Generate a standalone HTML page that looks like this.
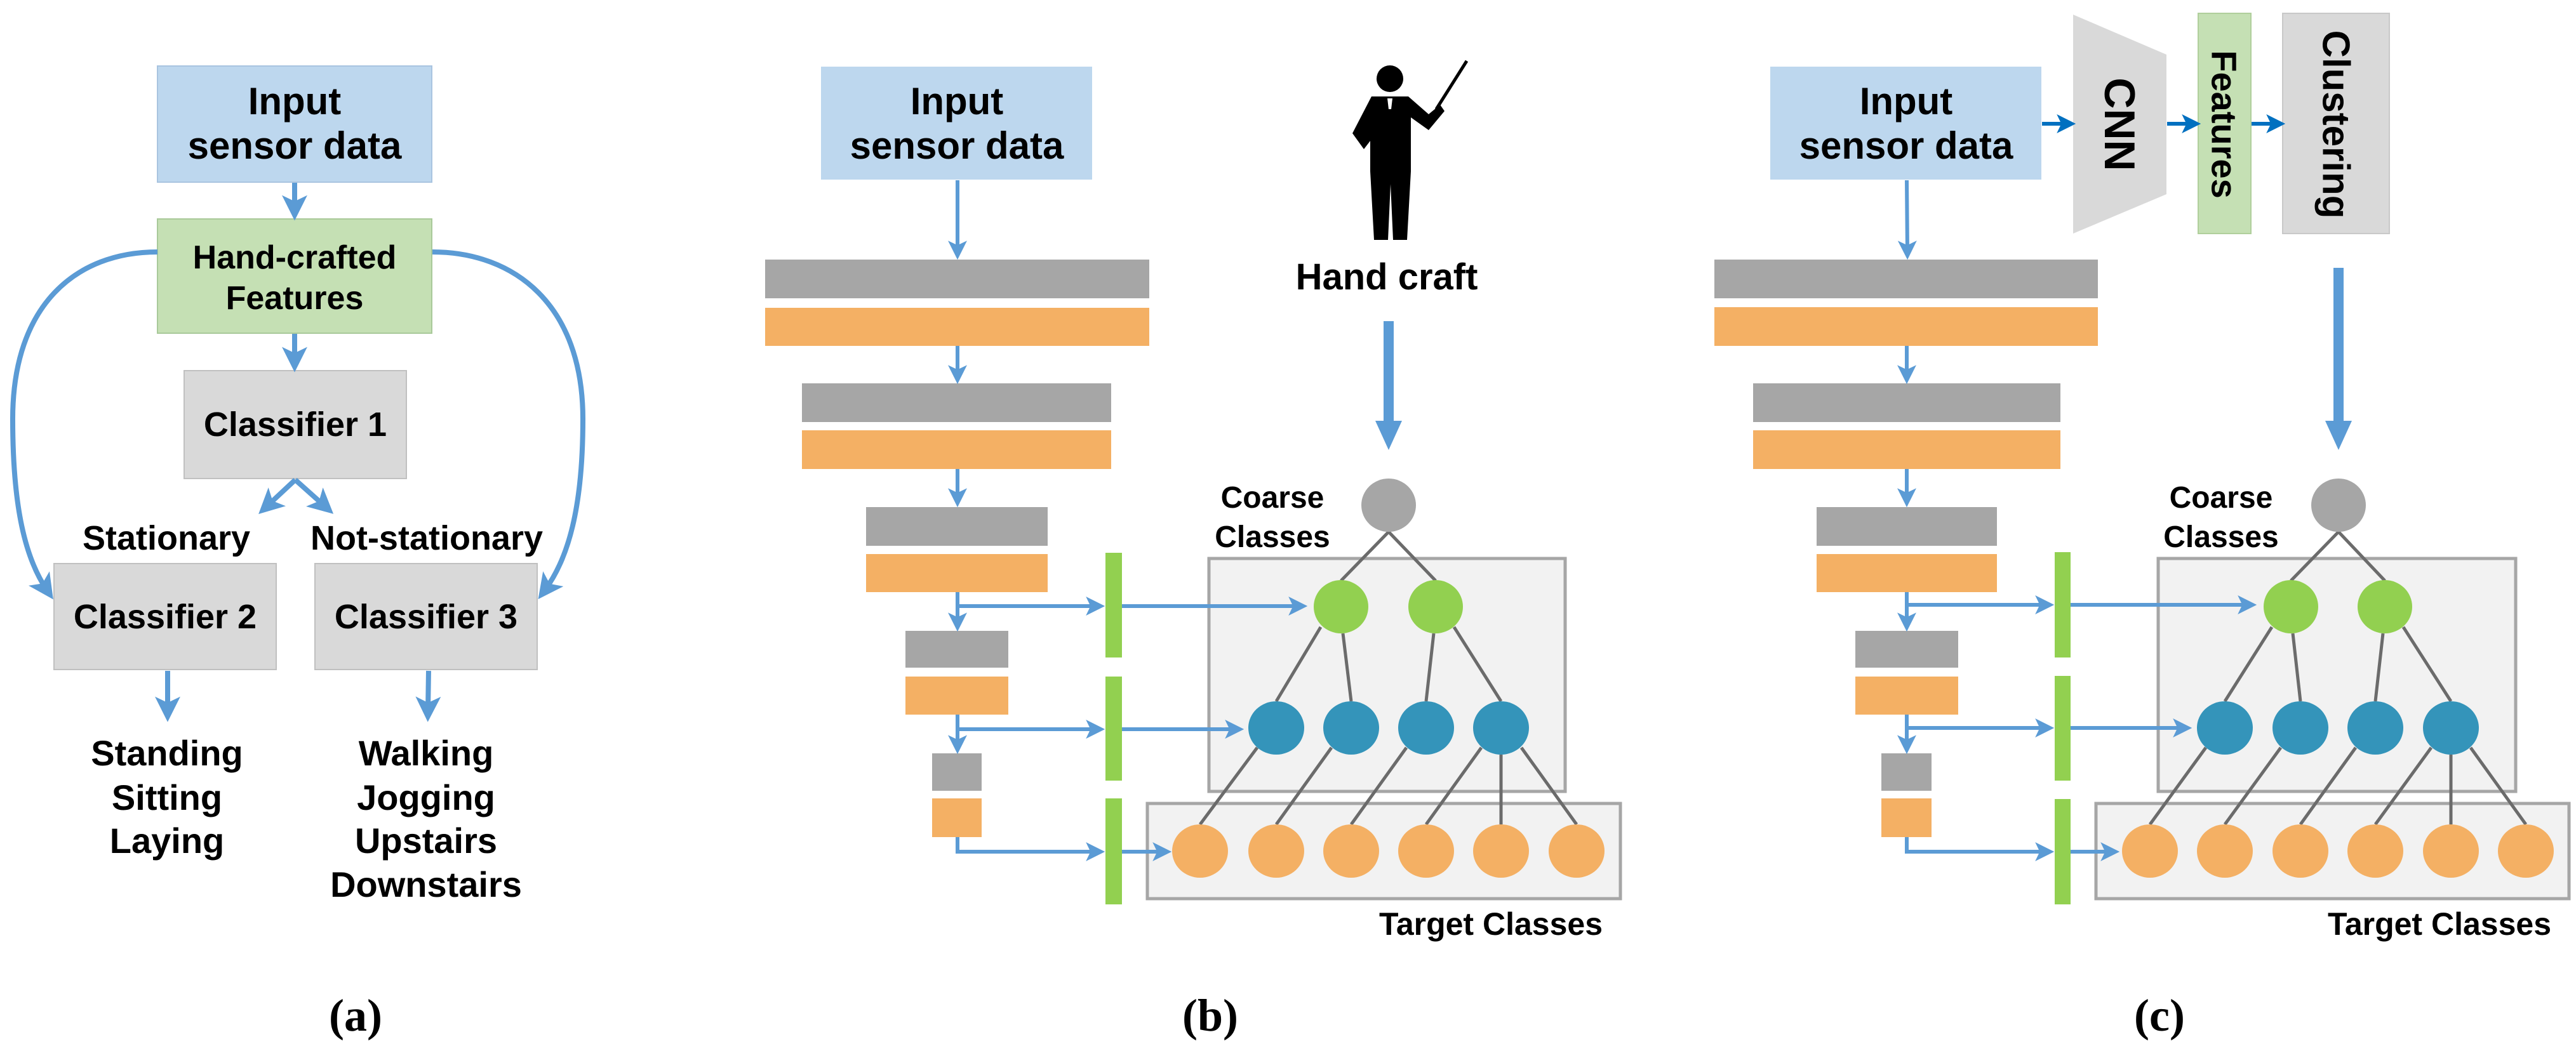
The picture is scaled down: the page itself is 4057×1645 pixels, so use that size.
<!DOCTYPE html>
<html><head><meta charset="utf-8"><style>
html,body{margin:0;padding:0;background:#fff;}
svg{display:block;}
text{font-family:"Liberation Sans",sans-serif;font-weight:bold;fill:#000;}
.cap{font-family:"Liberation Serif",serif;font-weight:bold;font-size:72px;}
</style></head><body>
<svg width="4057" height="1645" viewBox="0 0 4057 1645" xmlns="http://www.w3.org/2000/svg">
<defs>
<marker id="ah" markerWidth="5" markerHeight="5" refX="2.8" refY="2.5" orient="auto" markerUnits="strokeWidth"><path d="M0,0 L5,2.5 L0,5 L1.2,2.5 z" fill="#5b9bd5"/></marker>
<marker id="ah2" markerWidth="5" markerHeight="5" refX="2.8" refY="2.5" orient="auto" markerUnits="strokeWidth"><path d="M0,0 L5,2.5 L0,5 L1.2,2.5 z" fill="#0070c0"/></marker>
</defs>

<!-- ===== Panel (a) ===== -->
<g>
<rect x="248" y="104" width="432" height="183" fill="#bdd7ee" stroke="#a9c4e0" stroke-width="2"/>
<text x="464" y="180" font-size="60" text-anchor="middle">Input</text>
<text x="464" y="250" font-size="60" text-anchor="middle">sensor data</text>
<rect x="248" y="345" width="432" height="180" fill="#c5e0b4" stroke="#a9c99a" stroke-width="2"/>
<text x="464" y="423" font-size="52" text-anchor="middle">Hand-crafted</text>
<text x="464" y="487" font-size="52" text-anchor="middle">Features</text>
<rect x="290" y="584" width="350" height="170" fill="#d9d9d9" stroke="#c0c0c0" stroke-width="2"/>
<text x="465" y="687" font-size="54" text-anchor="middle">Classifier 1</text>
<rect x="85" y="888" width="350" height="167" fill="#d9d9d9" stroke="#c0c0c0" stroke-width="2"/>
<text x="260" y="990" font-size="54" text-anchor="middle">Classifier 2</text>
<rect x="496" y="888" width="350" height="167" fill="#d9d9d9" stroke="#c0c0c0" stroke-width="2"/>
<text x="671" y="990" font-size="54" text-anchor="middle">Classifier 3</text>
<text x="262" y="866" font-size="54" text-anchor="middle">Stationary</text>
<text x="672" y="866" font-size="54" text-anchor="middle">Not-stationary</text>
<g stroke="#5b9bd5" stroke-width="8" fill="none">
<line x1="464" y1="288" x2="464" y2="330" marker-end="url(#ah)"/>
<line x1="464" y1="526" x2="464" y2="569" marker-end="url(#ah)"/>
<line x1="465" y1="756" x2="420" y2="798" marker-end="url(#ah)"/>
<line x1="465" y1="756" x2="512" y2="798" marker-end="url(#ah)"/>
<path d="M248,397 C120,397 20,480 20,660 C20,800 40,880 74,930" marker-end="url(#ah)"/>
<path d="M681,397 C810,397 918,480 918,660 C918,800 895,880 858,930" marker-end="url(#ah)"/>
<line x1="264" y1="1057" x2="264" y2="1120" marker-end="url(#ah)"/>
<line x1="675" y1="1057" x2="674" y2="1120" marker-end="url(#ah)"/>
</g>
<g font-size="56" text-anchor="middle">
<text x="263" y="1206">Standing</text>
<text x="263" y="1276">Sitting</text>
<text x="263" y="1344">Laying</text>
<text x="671" y="1206">Walking</text>
<text x="671" y="1276">Jogging</text>
<text x="671" y="1344">Upstairs</text>
<text x="671" y="1413">Downstairs</text>
</g>
<text class="cap" x="560" y="1624" text-anchor="middle">(a)</text>
</g>

<!-- ===== Panel (b) ===== -->
<g>
<rect x="1293" y="105" width="427" height="178" fill="#bdd7ee"/>
<text x="1507" y="180" font-size="60" text-anchor="middle">Input</text>
<text x="1507" y="250" font-size="60" text-anchor="middle">sensor data</text>
<rect x="1205" y="409" width="605" height="61" fill="#a6a6a6"/>
<rect x="1205" y="485" width="605" height="60" fill="#f4b064"/>
<rect x="1263" y="604" width="487" height="61" fill="#a6a6a6"/>
<rect x="1263" y="678" width="487" height="61" fill="#f4b064"/>
<rect x="1364" y="799" width="286" height="61" fill="#a6a6a6"/>
<rect x="1364" y="873" width="286" height="60" fill="#f4b064"/>
<rect x="1426" y="994" width="162" height="58" fill="#a6a6a6"/>
<rect x="1426" y="1066" width="162" height="60" fill="#f4b064"/>
<rect x="1468" y="1187" width="78" height="59" fill="#a6a6a6"/>
<rect x="1468" y="1258" width="78" height="61" fill="#f4b064"/>
<g stroke="#5b9bd5" stroke-width="6" fill="none">
<line x1="1508" y1="284" x2="1508" y2="396" marker-end="url(#ah)"/>
<line x1="1508" y1="545" x2="1508" y2="592" marker-end="url(#ah)"/>
<line x1="1508" y1="739" x2="1508" y2="786" marker-end="url(#ah)"/>
<line x1="1508" y1="933" x2="1508" y2="982" marker-end="url(#ah)"/>
<line x1="1508" y1="1126" x2="1508" y2="1175" marker-end="url(#ah)"/>
<line x1="1508" y1="955" x2="1727" y2="955" marker-end="url(#ah)"/>
<line x1="1508" y1="1149" x2="1727" y2="1149" marker-end="url(#ah)"/>
<polyline points="1508,1319 1508,1342 1727,1342" marker-end="url(#ah)"/>
</g>
<rect x="1741" y="871" width="26" height="165" fill="#92d050"/>
<rect x="1741" y="1066" width="26" height="164" fill="#92d050"/>
<rect x="1741" y="1258" width="26" height="167" fill="#92d050"/>
<!-- teacher -->
<g fill="#000">
<circle cx="2189" cy="124" r="21"/>
<path d="M2160,152 L2218,152 L2250,180 L2268,165 L2275,175 L2250,205 L2222,185 L2222,270 L2216,378 L2194,378 L2190,290 L2186,378 L2164,378 L2158,270 L2158,222 L2148,235 L2130,210 Z"/>
<line x1="2262" y1="172" x2="2310" y2="96" stroke="#000" stroke-width="5"/>
<path d="M2185,155 L2193,155 L2191,172 L2187,172Z" fill="#fff"/>
</g>
<text x="2184" y="456" font-size="58" text-anchor="middle">Hand craft</text>
<line x1="2187" y1="506" x2="2187" y2="670" stroke="#5b9bd5" stroke-width="16"/>
<path d="M2166,663 L2208,663 L2187,709 Z" fill="#5b9bd5"/>
<rect x="1904" y="880" width="561" height="367" fill="#f2f2f2" stroke="#a6a6a6" stroke-width="5"/>
<rect x="1807" y="1266" width="745" height="150" fill="#f2f2f2" stroke="#a6a6a6" stroke-width="5"/>
<g stroke="#5b9bd5" stroke-width="6" fill="none">
<line x1="1767" y1="955" x2="2046" y2="955" marker-end="url(#ah)"/>
<line x1="1767" y1="1149" x2="1946" y2="1149" marker-end="url(#ah)"/>
<line x1="1767" y1="1342" x2="1832" y2="1342" marker-end="url(#ah)"/>
</g>
<text x="2004" y="800" font-size="48" text-anchor="middle">Coarse</text>
<text x="2004" y="862" font-size="48" text-anchor="middle">Classes</text>
<g stroke="#6b6b6b" stroke-width="5">
<line x1="2187" y1="838" x2="2112" y2="915"/><line x1="2187" y1="838" x2="2261" y2="915"/>
<line x1="2080" y1="988" x2="2010" y2="1105"/><line x1="2115" y1="998" x2="2128" y2="1105"/>
<line x1="2258" y1="998" x2="2246" y2="1105"/><line x1="2290" y1="988" x2="2364" y2="1105"/>
<line x1="1980" y1="1178" x2="1890" y2="1299"/><line x1="2097" y1="1178" x2="2010" y2="1299"/>
<line x1="2215" y1="1178" x2="2128" y2="1299"/><line x1="2333" y1="1178" x2="2246" y2="1299"/>
<line x1="2364" y1="1189" x2="2364" y2="1299"/><line x1="2396" y1="1178" x2="2483" y2="1299"/>
</g>
<ellipse cx="2187" cy="796" rx="43" ry="42" fill="#a6a6a6"/>
<ellipse cx="2112" cy="956" rx="43" ry="42" fill="#92d050"/>
<ellipse cx="2261" cy="956" rx="43" ry="42" fill="#92d050"/>
<g fill="#3494ba"><ellipse cx="2010" cy="1147" rx="44" ry="42"/><ellipse cx="2128" cy="1147" rx="44" ry="42"/><ellipse cx="2246" cy="1147" rx="44" ry="42"/><ellipse cx="2364" cy="1147" rx="44" ry="42"/></g>
<g fill="#f4b064"><ellipse cx="1890" cy="1341" rx="44" ry="42"/><ellipse cx="2010" cy="1341" rx="44" ry="42"/><ellipse cx="2128" cy="1341" rx="44" ry="42"/><ellipse cx="2246" cy="1341" rx="44" ry="42"/><ellipse cx="2364" cy="1341" rx="44" ry="42"/><ellipse cx="2483" cy="1341" rx="44" ry="42"/></g>
<text x="2348" y="1473" font-size="50" text-anchor="middle">Target Classes</text>
<text class="cap" x="1906" y="1624" text-anchor="middle">(b)</text>
</g>

<!-- ===== Panel (c) ===== -->
<g>
<rect x="2788" y="105" width="427" height="178" fill="#bdd7ee"/>
<text x="3002" y="180" font-size="60" text-anchor="middle">Input</text>
<text x="3002" y="250" font-size="60" text-anchor="middle">sensor data</text>
<polygon points="3265,23 3412,86 3412,306 3265,368" fill="#d9d9d9"/>
<text transform="translate(3338,196) rotate(90)" font-size="68" text-anchor="middle" dominant-baseline="central">CNN</text>
<rect x="3462" y="21" width="83" height="347" fill="#c5e0b4" stroke="#b0cf9c" stroke-width="2"/>
<text transform="translate(3503,196) rotate(90)" font-size="56" text-anchor="middle" dominant-baseline="central">Features</text>
<rect x="3595" y="21" width="168" height="347" fill="#d9d9d9" stroke="#c8c8c8" stroke-width="2"/>
<text transform="translate(3679,196) rotate(90)" font-size="60" text-anchor="middle" dominant-baseline="central">Clustering</text>
<g stroke="#0070c0" stroke-width="6" fill="none">
<line x1="3216" y1="195" x2="3256" y2="195" marker-end="url(#ah2)"/>
<line x1="3413" y1="195" x2="3453" y2="195" marker-end="url(#ah2)"/>
<line x1="3546" y1="195" x2="3586" y2="195" marker-end="url(#ah2)"/>
</g>
<rect x="2700" y="409" width="604" height="61" fill="#a6a6a6"/>
<rect x="2700" y="484" width="604" height="61" fill="#f4b064"/>
<rect x="2761" y="604" width="484" height="61" fill="#a6a6a6"/>
<rect x="2761" y="678" width="484" height="61" fill="#f4b064"/>
<rect x="2861" y="799" width="284" height="61" fill="#a6a6a6"/>
<rect x="2861" y="873" width="284" height="60" fill="#f4b064"/>
<rect x="2922" y="994" width="162" height="58" fill="#a6a6a6"/>
<rect x="2922" y="1066" width="162" height="60" fill="#f4b064"/>
<rect x="2963" y="1187" width="79" height="59" fill="#a6a6a6"/>
<rect x="2963" y="1258" width="79" height="61" fill="#f4b064"/>
<g stroke="#5b9bd5" stroke-width="6" fill="none">
<line x1="3003" y1="284" x2="3004" y2="396" marker-end="url(#ah)"/>
<line x1="3003" y1="545" x2="3003" y2="592" marker-end="url(#ah)"/>
<line x1="3003" y1="739" x2="3003" y2="786" marker-end="url(#ah)"/>
<line x1="3003" y1="933" x2="3003" y2="982" marker-end="url(#ah)"/>
<line x1="3003" y1="1126" x2="3003" y2="1175" marker-end="url(#ah)"/>
<line x1="3003" y1="953" x2="3222" y2="953" marker-end="url(#ah)"/>
<line x1="3003" y1="1147" x2="3222" y2="1147" marker-end="url(#ah)"/>
<polyline points="3003,1319 3003,1342 3222,1342" marker-end="url(#ah)"/>
</g>
<rect x="3236" y="870" width="25" height="166" fill="#92d050"/>
<rect x="3236" y="1065" width="25" height="165" fill="#92d050"/>
<rect x="3236" y="1259" width="25" height="166" fill="#92d050"/>
<line x1="3683" y1="422" x2="3683" y2="670" stroke="#5b9bd5" stroke-width="16"/>
<path d="M3662,663 L3704,663 L3683,709 Z" fill="#5b9bd5"/>
<rect x="3399" y="880" width="563" height="367" fill="#f2f2f2" stroke="#a6a6a6" stroke-width="5"/>
<rect x="3301" y="1266" width="745" height="150" fill="#f2f2f2" stroke="#a6a6a6" stroke-width="5"/>
<g stroke="#5b9bd5" stroke-width="6" fill="none">
<line x1="3261" y1="953" x2="3541" y2="953" marker-end="url(#ah)"/>
<line x1="3261" y1="1147" x2="3439" y2="1147" marker-end="url(#ah)"/>
<line x1="3261" y1="1342" x2="3325" y2="1342" marker-end="url(#ah)"/>
</g>
<text x="3498" y="800" font-size="48" text-anchor="middle">Coarse</text>
<text x="3498" y="862" font-size="48" text-anchor="middle">Classes</text>
<g stroke="#6b6b6b" stroke-width="5">
<line x1="3683" y1="838" x2="3608" y2="915"/><line x1="3683" y1="838" x2="3756" y2="915"/>
<line x1="3578" y1="988" x2="3504" y2="1105"/><line x1="3611" y1="998" x2="3623" y2="1105"/>
<line x1="3753" y1="998" x2="3741" y2="1105"/><line x1="3785" y1="988" x2="3860" y2="1105"/>
<line x1="3474" y1="1178" x2="3386" y2="1299"/><line x1="3592" y1="1178" x2="3504" y2="1299"/>
<line x1="3710" y1="1178" x2="3623" y2="1299"/><line x1="3829" y1="1178" x2="3741" y2="1299"/>
<line x1="3860" y1="1189" x2="3860" y2="1299"/><line x1="3891" y1="1178" x2="3978" y2="1299"/>
</g>
<ellipse cx="3683" cy="796" rx="43" ry="42" fill="#a6a6a6"/>
<ellipse cx="3608" cy="956" rx="43" ry="42" fill="#92d050"/>
<ellipse cx="3756" cy="956" rx="43" ry="42" fill="#92d050"/>
<g fill="#3494ba"><ellipse cx="3504" cy="1147" rx="44" ry="42"/><ellipse cx="3623" cy="1147" rx="44" ry="42"/><ellipse cx="3741" cy="1147" rx="44" ry="42"/><ellipse cx="3860" cy="1147" rx="44" ry="42"/></g>
<g fill="#f4b064"><ellipse cx="3386" cy="1341" rx="44" ry="42"/><ellipse cx="3504" cy="1341" rx="44" ry="42"/><ellipse cx="3623" cy="1341" rx="44" ry="42"/><ellipse cx="3741" cy="1341" rx="44" ry="42"/><ellipse cx="3860" cy="1341" rx="44" ry="42"/><ellipse cx="3978" cy="1341" rx="44" ry="42"/></g>
<text x="3842" y="1473" font-size="50" text-anchor="middle">Target Classes</text>
<text class="cap" x="3401" y="1624" text-anchor="middle">(c)</text>
</g>
</svg>
</body></html>
